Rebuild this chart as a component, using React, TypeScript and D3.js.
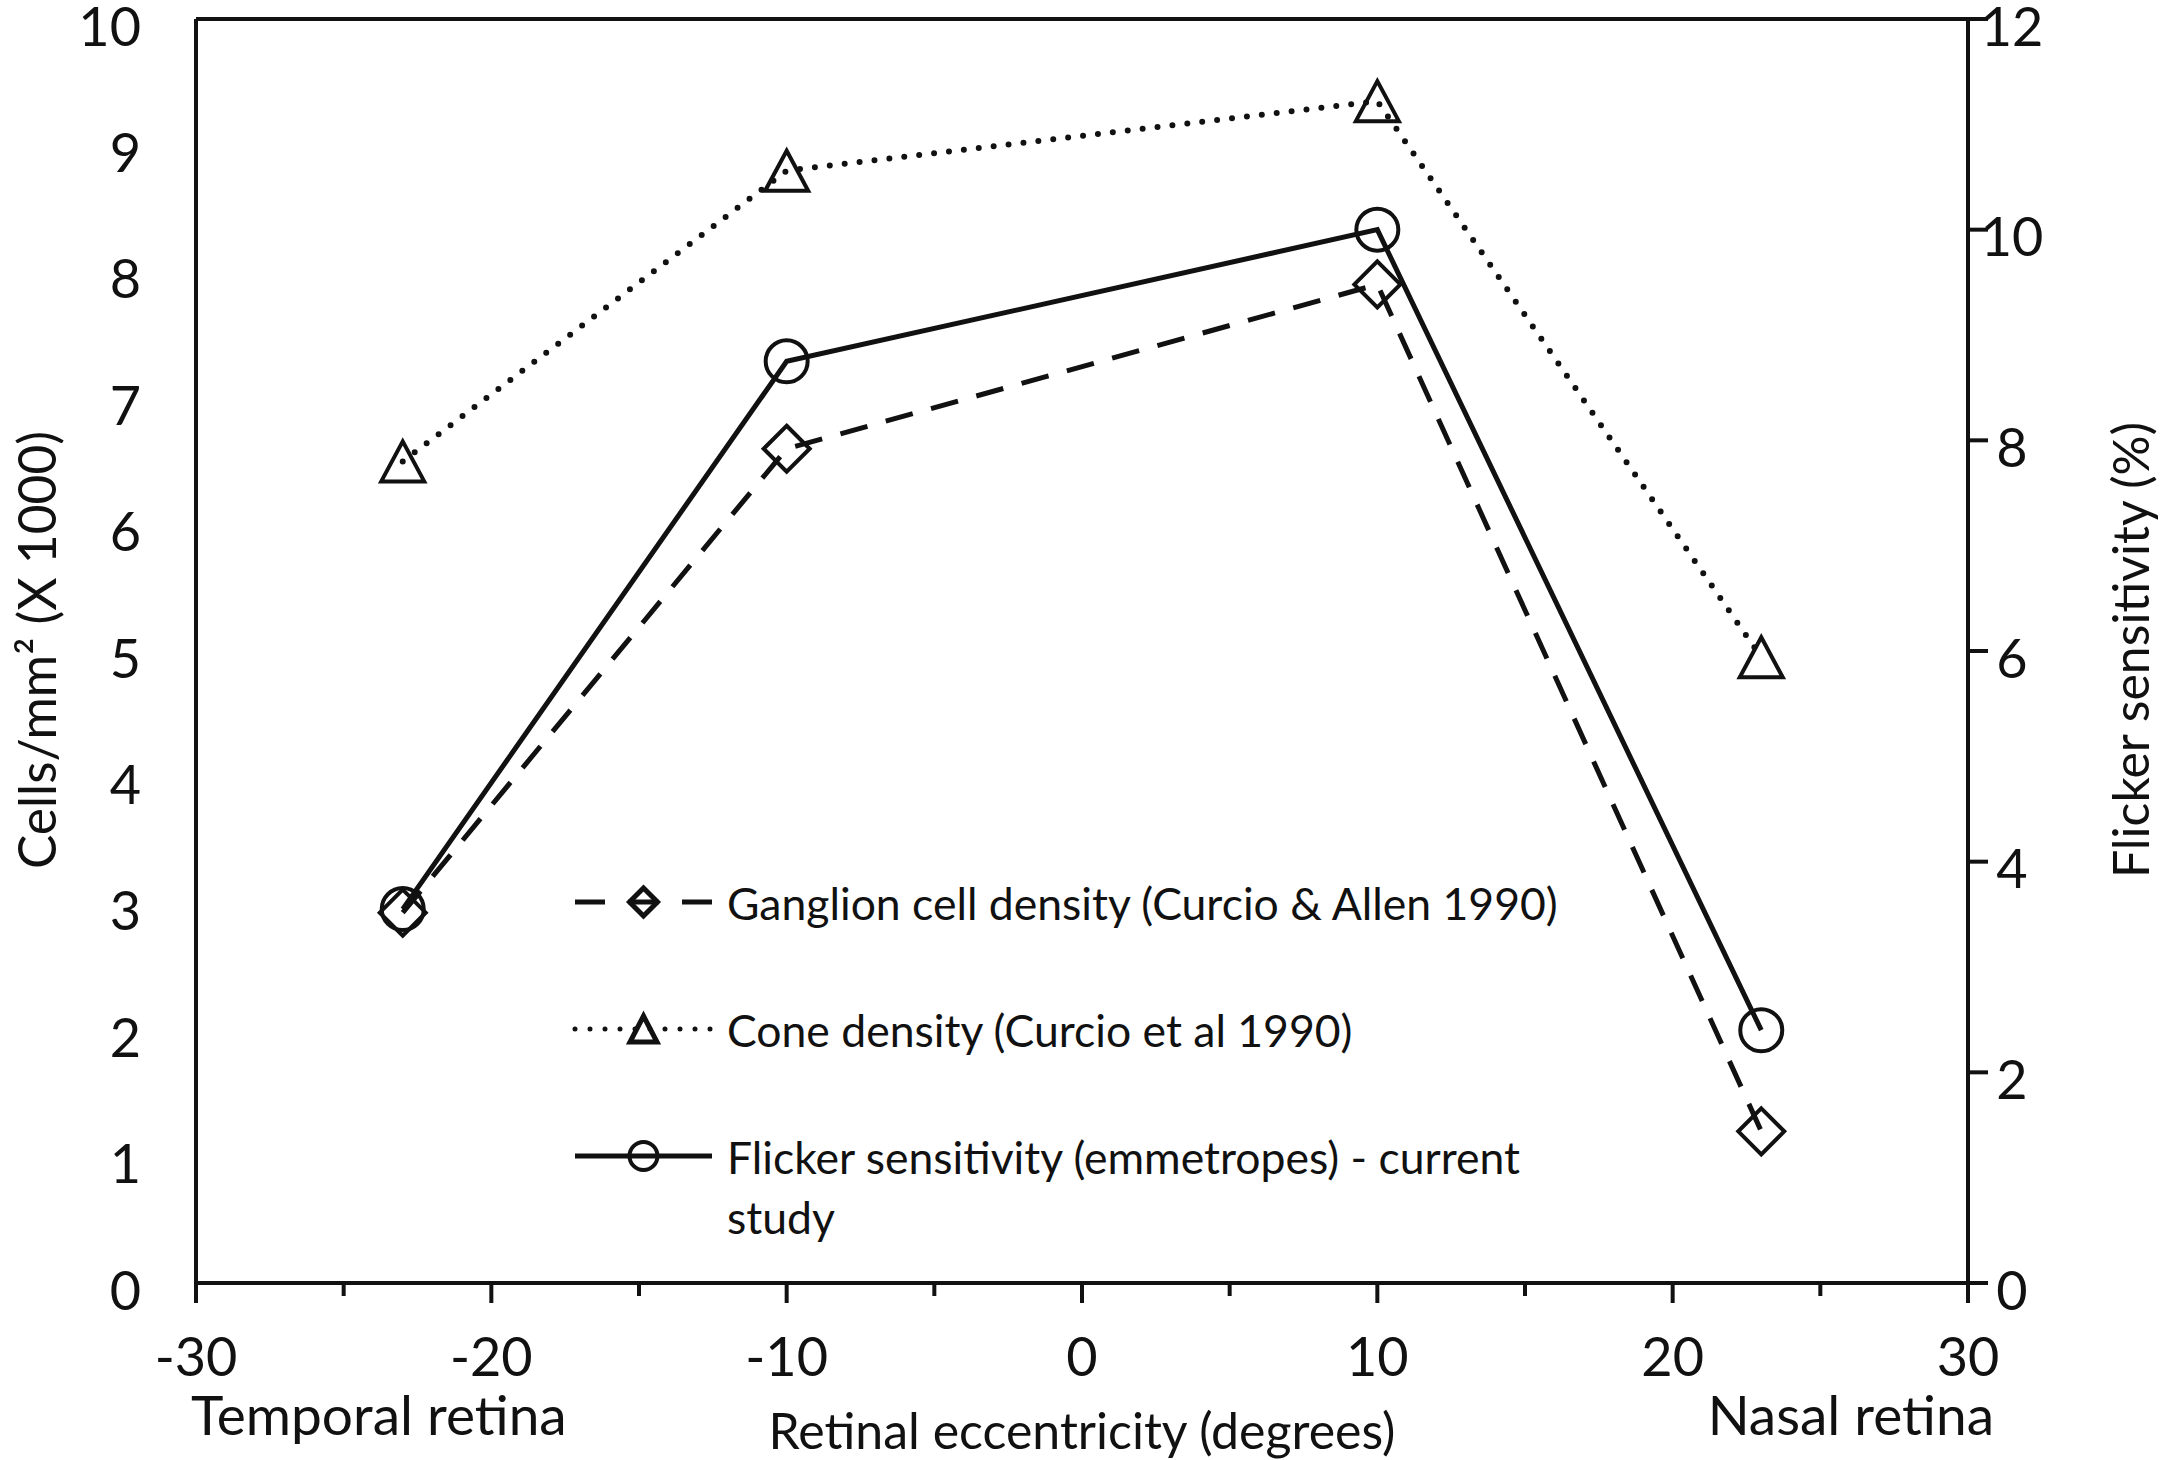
import * as d3 from "d3";

const WIDTH = 2167;
const HEIGHT = 1460;

// eccentricity in degrees (negative = temporal)
const eccentricity = [-23, -10, 10, 23];
const ganglionDensity = [2.93, 6.6, 7.9, 1.2];
const coneDensity = [6.5, 8.8, 9.35, 4.95];
const flickerSensitivity = [3.55, 8.75, 10.0, 2.4];

const xTicks = [-30, -20, -10, 0, 10, 20, 30];
const xMinorTicks = [-25, -15, -5, 5, 15, 25];
const leftTicks = [0, 1, 2, 3, 4, 5, 6, 7, 8, 9, 10];
const rightTicks = [0, 2, 4, 6, 8, 10, 12];

const legendLabels = [
  ["Ganglion cell density (Curcio & Allen 1990)"],
  ["Cone density (Curcio et al 1990)"],
  ["Flicker sensitivity (emmetropes) - current", "study"],
];

const FONT = "Lato, 'Open Sans', sans-serif";
const INK = "#111";

const margin = { left: 196, right: WIDTH - 1968, top: 19, bottom: HEIGHT - 1283 };

const x = d3.scaleLinear().domain([-30, 30]).range([margin.left, WIDTH - margin.right]);
const yLeft = d3.scaleLinear().domain([0, 10]).range([HEIGHT - margin.bottom, margin.top]);
const yRight = d3.scaleLinear().domain([0, 12]).range([HEIGHT - margin.bottom, margin.top]);

const diamond = (r: number) => `M0,${-r}L${r},0L0,${r}L${-r},0Z`;
const triangle = (w: number, h: number) =>
  `M0,${-h / 2}L${w / 2},${h / 2}L${-w / 2},${h / 2}Z`;

const dashStyle = { strokeDasharray: "28 19", strokeLinecap: "butt" as const };
const dotStyle = { strokeDasharray: "0 15", strokeLinecap: "round" as const };

export default function App() {
  const x0 = margin.left;
  const x1 = WIDTH - margin.right;
  const y0 = HEIGHT - margin.bottom;
  const y1 = margin.top;

  const lineLeft = d3
    .line<number>()
    .x((_, i) => x(eccentricity[i]))
    .y((d) => yLeft(d));
  const lineRight = d3
    .line<number>()
    .x((_, i) => x(eccentricity[i]))
    .y((d) => yRight(d));

  // legend layout
  const legX0 = 575;
  const legX1 = 712;
  const legMid = (legX0 + legX1) / 2;
  const legTextX = 727;
  const legRows = [902, 1029, 1156];

  return (
    <svg
      width={WIDTH}
      height={HEIGHT}
      viewBox={`0 0 ${WIDTH} ${HEIGHT}`}
      style={{ position: "absolute", left: 0, top: 0, background: "#fff" }}
      fontFamily={FONT}
    >
      <rect width={WIDTH} height={HEIGHT} fill="#fff" />

      {/* frame */}
      <g stroke={INK} strokeWidth={4} fill="none">
        <line x1={x0} x2={x1} y1={y1} y2={y1} />
        <line x1={x0} x2={x0} y1={y1} y2={y0} />
        <line x1={x1} x2={x1} y1={y1} y2={y0} />
        <line x1={x0} x2={x1} y1={y0} y2={y0} />
        {xTicks.map((t) => (
          <line key={t} x1={x(t)} x2={x(t)} y1={y0} y2={y0 + 20} />
        ))}
        {xMinorTicks.map((t) => (
          <line key={t} x1={x(t)} x2={x(t)} y1={y0} y2={y0 + 13} />
        ))}
        {rightTicks.map((t) => (
          <line key={t} x1={x1} x2={x1 + 20} y1={yRight(t)} y2={yRight(t)} />
        ))}
      </g>

      {/* tick labels */}
      <g fill={INK} fontSize={54}>
        {leftTicks.map((t) => (
          <text key={t} x={141} y={yLeft(t) + 6} textAnchor="end" dominantBaseline="central">
            {t}
          </text>
        ))}
        {rightTicks.map((t) => (
          <text key={t} x={2012} y={yRight(t) + 6} textAnchor="middle" dominantBaseline="central">
            {t}
          </text>
        ))}
        {xTicks.map((t) => (
          <text key={t} x={x(t)} y={1355} textAnchor="middle" dominantBaseline="central">
            {t}
          </text>
        ))}
      </g>
      <g fill={INK} fontSize={55}>
        <text x={191} y={1414} dominantBaseline="central">
          Temporal retina
        </text>
        <text x={1994} y={1414} textAnchor="end" dominantBaseline="central">
          Nasal retina
        </text>
      </g>

      {/* axis titles */}
      <g fill={INK} fontSize={50}>
        <text x={1082} y={1430} textAnchor="middle" dominantBaseline="central">
          Retinal eccentricity (degrees)
        </text>
        <text
          transform={`translate(36,650) rotate(-90)`}
          textAnchor="middle"
          dominantBaseline="central"
          fontSize={51.5}
        >
          Cells/mm² (X 1000)
        </text>
        <text
          transform={`translate(2130,650) rotate(-90)`}
          textAnchor="middle"
          dominantBaseline="central"
          fontSize={50}
        >
          Flicker sensitivity (%)
        </text>
      </g>

      {/* series lines */}
      <g fill="none" stroke={INK} strokeWidth={5} strokeLinejoin="miter">
        <path d={lineLeft(coneDensity) ?? ""} {...dotStyle} strokeWidth={6} />
        <path d={lineLeft(ganglionDensity) ?? ""} {...dashStyle} />
        <path d={lineRight(flickerSensitivity) ?? ""} />
      </g>

      {/* markers */}
      <g fill="none" stroke={INK} strokeWidth={4}>
        {coneDensity.map((v, i) => (
          <path
            key={"c" + i}
            d={triangle(43, 40)}
            transform={`translate(${x(eccentricity[i])},${yLeft(v)})`}
          />
        ))}
        {ganglionDensity.map((v, i) => (
          <path
            key={"g" + i}
            d={diamond(23)}
            transform={`translate(${x(eccentricity[i])},${yLeft(v)})`}
          />
        ))}
        {flickerSensitivity.map((v, i) => (
          <circle key={"f" + i} cx={x(eccentricity[i])} cy={yRight(v)} r={21} />
        ))}
      </g>

      {/* legend */}
      <g fill="none" stroke={INK} strokeWidth={5}>
        <line
          x1={legX0}
          x2={legX1}
          y1={legRows[0]}
          y2={legRows[0]}
          strokeDasharray="30 23.5"
        />
        <path d={diamond(14)} transform={`translate(${legMid},${legRows[0]})`} strokeWidth={5} />
        <line x1={legX0} x2={legX1} y1={legRows[1]} y2={legRows[1]} {...dotStyle} />
        <path
          d={triangle(27, 26)}
          transform={`translate(${legMid},${legRows[1]})`}
          strokeWidth={5}
        />
        <line x1={legX0} x2={legX1} y1={legRows[2]} y2={legRows[2]} />
        <circle cx={legMid} cy={legRows[2]} r={14} strokeWidth={4} />
      </g>
      <g fill={INK} fontSize={44.5}>
        {legendLabels.map((lines, i) =>
          lines.map((s, j) => (
            <text
              key={i + "-" + j}
              x={legTextX}
              y={legRows[i] + j * 60}
              dominantBaseline="central"
            >
              {s}
            </text>
          ))
        )}
      </g>
    </svg>
  );
}
